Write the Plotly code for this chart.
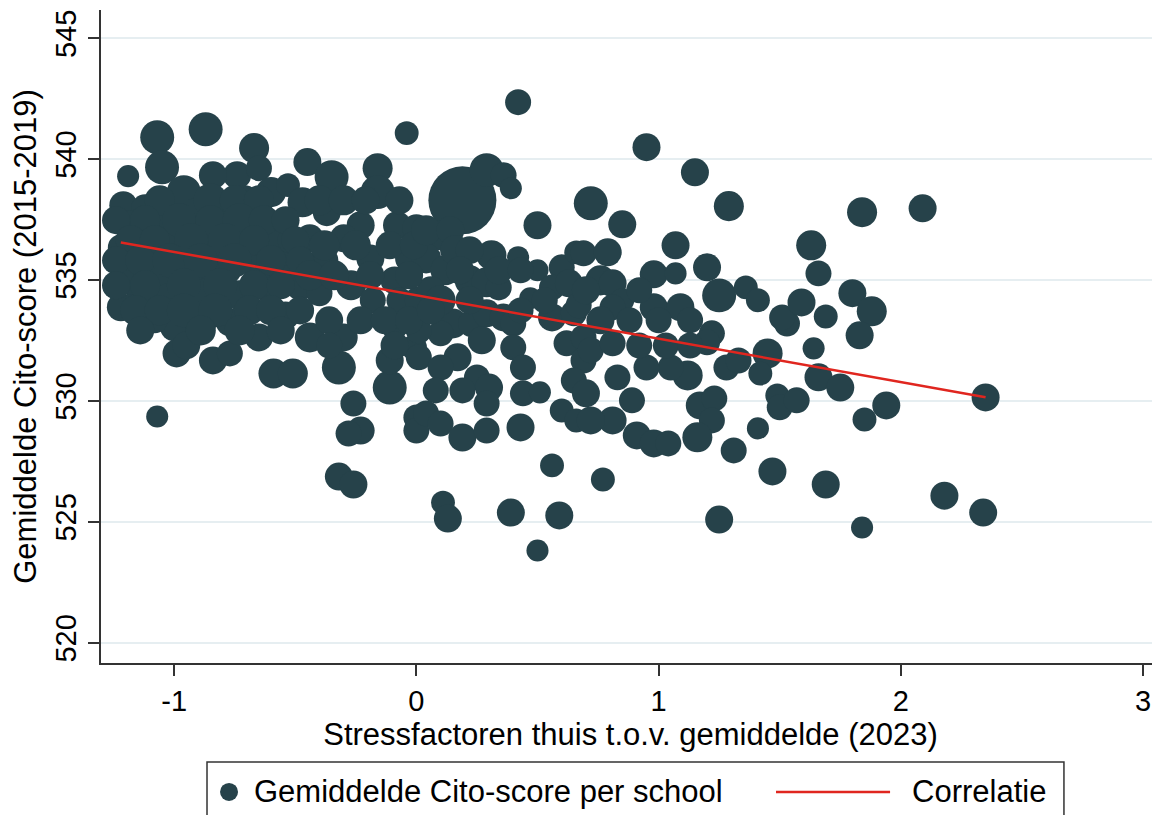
import plotly.graph_objects as go

# Stressfactoren thuis t.o.v. gemiddelde (2023), per school
stress = [
    -1.07, -0.87, -1.19, -1.05, -0.67, -0.74, -0.84, -0.96, -1.21, -1.12,
    -1.22, -1.22, -1.14, -1.07, -1.00, -0.99, -0.84, -0.77, -0.95, -0.65,
    -0.60, -0.45, -0.35, -0.53, -0.16, -0.16, -0.47, -0.37, -0.08, 0.00,
    -0.23, -0.59, -0.44, -0.30, -0.19, -0.03, -0.04,
    -1.18, -1.06, -0.91, -0.79, -0.71, -1.14, -1.00, -0.85, -0.73, -1.08,
    -0.93, -0.79, -0.67, -1.18, -1.02, -0.87, -0.73, -0.63, -0.89, -0.77,
    -1.08, -0.54, -0.48, -0.52, -0.38, -0.27, -0.09, -0.07, 0.01, -0.40,
    -0.18, -0.01, -0.65, -0.44, -0.30, -0.54, -0.23, -0.09, -0.59, -0.51,
    -0.32, -0.11, -0.11, -0.26, -0.23, -0.28, 0.00, 0.00, -0.32, -0.26,
    0.19, 0.29, 0.36, 0.39, 0.42, 0.50, 0.31, 0.42, 0.50, 0.60,
    0.66, 0.10, 0.04, 0.12, 0.22, 0.29, 0.34, 0.47, 0.56, 0.63,
    0.56, 0.65, 0.62, 0.69, 0.15, 0.23, 0.29, 0.36, 0.40, 0.10,
    0.01, 0.27, 0.40, 0.17, 0.01, 0.10, 0.25, 0.44, 0.44, 0.51,
    0.30, 0.19, 0.08, 0.29, 0.04, 0.10, 0.19, 0.29, 0.43, 0.69,
    0.65, 0.60, 0.66, 0.56, 0.11, 0.13, 0.39, 0.59, 0.50, 0.06,
    0.95, 1.15, 1.29, 0.72, 0.85, 1.07, 0.69, 0.79, 0.98, 1.07,
    1.20, 1.25, 1.36, 1.41, 0.76, 0.81, 0.85, 0.67, 0.98, 1.09,
    0.81, 1.53, 1.22, 1.20, 1.28, 1.45, 1.42, 1.33, 1.12, 1.05,
    0.95, 0.83, 0.72, 0.81, 0.89, 0.70, 0.81, 0.72, 0.91, 0.98,
    1.04, 1.17, 1.23, 1.22, 1.16, 1.31, 1.41, 1.49, 1.50, 1.57,
    1.51, 0.77, 1.25, 1.47,
    1.84, 2.09, 1.63, 1.66, 1.59, 1.80, 1.88, 1.69, 1.83, 1.64,
    1.66, 1.75, 1.94, 1.85, 2.35, 1.69, 2.18, 2.34, 1.84,
    # dichte wolk links en midden
    -1.06, -0.85, -0.75, -0.65,
    -1.24, -1.12, -0.98, -0.85, -0.73, -0.63, -0.54,
    -1.18, -1.08, -0.93, -0.79, -0.67, -0.50,
    -1.24, -1.14, -1.02, -0.89, -0.75, -0.60, -0.48,
    -1.24, -1.12, -0.96, -0.81, -0.67, -0.56,
    -1.16, -1.06, -0.96, -0.83, -0.69, -0.60, -0.48,
    -1.14, -0.89, -0.73, -0.56,
    -0.40, -0.30, -0.21, -0.07,
    -0.38, -0.25, -0.11, -0.01,
    -0.44, -0.34, -0.19, -0.03,
    -0.36, -0.13, -0.03,
    -0.36, -0.09,
    0.04, 0.14, 0.16, 0.22, 0.18, 0.34, 0.43, 0.10, 0.22, 0.53, 0.06, 0.43,
    0.70, 0.92, 0.76, 0.88, 1.00, 1.13, 0.92, 1.03, 1.13,
]

# Gemiddelde Cito-score (2015-2019), per school
cito = [
    540.90, 541.23, 539.29, 539.66, 540.45, 539.33, 539.33, 538.63, 538.09, 537.96,
    536.35, 533.87, 534.16, 529.35, 533.04, 531.96, 531.67, 531.96, 532.29, 539.62,
    538.63, 539.87, 539.25, 538.92, 539.62, 538.63, 538.21, 537.80, 537.26, 537.14,
    537.26, 536.56, 536.72, 536.72, 535.89, 535.89, 541.07,
    537.26, 537.38, 537.67, 537.88, 538.29, 536.23, 536.43, 536.64, 536.85, 535.19,
    535.40, 535.48, 535.73, 534.98, 534.16, 534.36, 534.36, 534.78, 533.12, 533.25,
    533.33, 535.60, 534.78, 536.64, 535.81, 534.78, 534.98, 534.16, 534.16, 534.45,
    534.16, 532.21, 532.62, 532.62, 532.62, 533.53, 533.33, 533.12, 531.13, 531.13,
    531.38, 530.55, 531.67, 529.89, 528.77, 528.65, 529.31, 528.77, 526.87, 526.54,
    538.29, 539.54, 539.33, 538.79, 542.35, 537.26, 536.02, 535.94, 535.40, 535.52,
    536.14, 536.85, 535.89, 535.40, 534.98, 534.90, 534.69, 534.24, 534.69, 534.86,
    533.45, 533.62, 532.38, 532.62, 533.20, 533.20, 533.62, 533.45, 533.20, 532.79,
    532.91, 532.50, 532.21, 531.80, 531.80, 531.38, 530.97, 531.38, 530.31, 530.35,
    530.55, 530.43, 530.43, 529.89, 529.48, 529.06, 528.48, 528.77, 528.90, 531.67,
    530.84, 529.60, 529.19, 527.33, 525.79, 525.13, 525.38, 525.26, 523.81, 534.57,
    540.49, 539.45, 538.05, 538.17, 537.30, 536.43, 536.10, 536.14, 535.23, 535.27,
    535.52, 534.36, 534.69, 534.16, 534.98, 534.86, 534.16, 533.95, 533.87, 533.87,
    533.87, 533.20, 532.79, 532.42, 531.38, 531.96, 531.13, 531.67, 531.05, 531.38,
    531.38, 530.97, 532.09, 532.38, 530.02, 530.31, 529.19, 529.19, 528.57, 528.24,
    528.24, 529.81, 530.10, 529.19, 528.49, 527.95, 528.86, 530.22, 529.73, 530.02,
    533.45, 526.75, 525.09, 527.08,
    537.80, 537.96, 536.43, 535.27, 534.07, 534.45, 533.70, 533.49, 532.71, 532.17,
    530.97, 530.55, 529.81, 529.23, 530.14, 526.54, 526.08, 525.38, 524.76,
    # dichte wolk links en midden
    538.29, 538.29, 538.29, 538.29,
    537.47, 537.47, 537.47, 537.47, 537.47, 537.47, 537.47,
    536.64, 536.64, 536.64, 536.64, 536.64, 536.64,
    535.81, 535.81, 535.81, 535.81, 535.81, 535.81, 535.81,
    534.78, 534.78, 534.78, 534.78, 534.78, 534.78,
    533.74, 533.74, 533.74, 533.74, 533.74, 533.74, 533.74,
    532.91, 532.91, 532.91, 532.91,
    538.29, 538.29, 538.29, 538.29,
    536.43, 536.43, 536.43, 536.43,
    535.19, 535.19, 535.19, 535.19,
    533.33, 533.33, 533.33,
    532.29, 532.29,
    537.05, 537.05, 536.23, 536.23, 535.40, 535.40, 535.40, 534.16, 534.16, 534.16, 533.74, 533.74,
    534.57, 534.57, 533.33, 533.33, 533.33, 533.33, 532.29, 532.29, 532.29,
]

# aantal leerlingen per school (bepaalt de grootte van de cirkel)
leerlingen = [
    147, 147, 62, 147, 115, 100, 100, 147, 100, 100,
    86, 100, 115, 62, 100, 100, 100, 86, 100, 86,
    115, 100, 147, 73, 115, 147, 115, 100, 100, 100,
    100, 115, 100, 100, 100, 100, 73,
    115, 147, 147, 100, 115, 147, 147, 147, 115, 147,
    147, 147, 115, 100, 147, 147, 115, 115, 115, 100,
    86, 100, 115, 86, 100, 115, 100, 86, 100, 86,
    86, 86, 100, 115, 100, 100, 100, 100, 115, 115,
    147, 147, 100, 86, 100, 86, 86, 86, 100, 100,
    590, 147, 86, 62, 86, 100, 115, 62, 62, 86,
    73, 115, 115, 115, 115, 115, 86, 62, 86, 100,
    100, 86, 86, 86, 115, 100, 100, 100, 86, 86,
    86, 100, 86, 100, 86, 86, 86, 86, 86, 62,
    100, 86, 86, 86, 86, 86, 100, 86, 100, 86,
    86, 73, 73, 73, 73, 100, 100, 100, 62, 100,
    100, 100, 115, 147, 100, 100, 86, 100, 100, 62,
    100, 147, 73, 73, 115, 100, 73, 86, 100, 100,
    86, 86, 86, 86, 86, 115, 73, 86, 115, 86,
    86, 86, 86, 86, 86, 100, 100, 100, 100, 100,
    86, 100, 86, 86, 115, 86, 62, 73, 86, 86,
    86, 73, 100, 100,
    115, 100, 115, 86, 100, 100, 115, 73, 100, 62,
    100, 100, 100, 73, 100, 100, 100, 100, 62,
    # dichte wolk links en midden
    115, 147, 115, 115,
    100, 115, 147, 115, 147, 115, 100,
    115, 115, 147, 147, 115, 100,
    100, 115, 147, 147, 147, 115, 100,
    100, 115, 147, 147, 115, 100,
    115, 115, 147, 147, 115, 115, 100,
    100, 115, 115, 100,
    115, 115, 100, 100,
    115, 115, 100, 100,
    115, 115, 100, 100,
    100, 100, 100,
    86, 100,
    115, 100, 115, 100, 100, 100, 86, 115, 100, 86, 100, 86,
    100, 86, 100, 86, 86, 86, 86, 86, 86,
]

# regressielijn (begin- en eindpunt)
lijn_x = [-1.22, 2.35]
lijn_y = [536.55, 530.15]

x_ticks = [-1, 0, 1, 2, 3]
y_ticks = [520, 525, 530, 535, 540, 545]

DOT = '#26424a'
RED = '#e0261f'
AXIS = '#333333'
FONT = 'Liberation Sans, Arial, sans-serif'

fig = go.Figure()

fig.add_trace(go.Scatter(
    x=stress,
    y=cito,
    mode='markers',
    name='Gemiddelde Cito-score per school',
    marker=dict(
        size=leerlingen,
        sizemode='area',
        sizeref=0.255,
        color=DOT,
        opacity=1,
        line=dict(width=0),
    ),
))

fig.add_trace(go.Scatter(
    x=lijn_x,
    y=lijn_y,
    mode='lines',
    name='Correlatie',
    line=dict(color=RED, width=2.5),
))

# legenda onder de grafiek, in een kader (zoals in Stata)
leg_y = -0.1975
fig.add_shape(type='rect', xref='paper', yref='paper',
              x0=0.1001, x1=0.9093, y0=-0.1516, y1=-0.32,
              line=dict(color=AXIS, width=1.5))
fig.add_shape(type='circle', xref='paper', yref='paper',
              xsizemode='pixel', ysizemode='pixel',
              xanchor=0.1209, yanchor=leg_y, x0=-9, x1=9, y0=-9, y1=9,
              fillcolor=DOT, line=dict(width=0))
fig.add_shape(type='line', xref='paper', yref='paper',
              x0=0.6374, x1=0.7451, y0=leg_y, y1=leg_y,
              line=dict(color=RED, width=2.5))
fig.add_annotation(text='Gemiddelde Cito-score per school', xref='paper', yref='paper',
                   x=0.1426, y=leg_y, xanchor='left', yanchor='middle',
                   showarrow=False, font=dict(size=31))
fig.add_annotation(text='Correlatie', xref='paper', yref='paper',
                   x=0.7639, y=leg_y, xanchor='left', yanchor='middle',
                   showarrow=False, font=dict(size=31))

# de pagina heeft 8px marge, daarom 8px kleiner en naar links/boven verschoven
fig.update_layout(
    width=1152,
    height=807,
    margin=dict(l=93, r=0, t=2, b=152),
    paper_bgcolor='white',
    plot_bgcolor='white',
    font=dict(family=FONT, size=31, color='black'),
    showlegend=False,
    xaxis=dict(
        range=[-1.302, 3.07],
        tickvals=x_ticks,
        ticktext=[str(v) for v in x_ticks],
        showgrid=False,
        zeroline=False,
        showline=True,
        linecolor=AXIS,
        linewidth=2,
        ticks='outside',
        ticklen=11,
        tickwidth=2,
        tickcolor=AXIS,
        tickfont=dict(family=FONT, size=29, color='black'),
        ticklabelstandoff=0,
        automargin=False,
        title=dict(text='Stressfactoren thuis t.o.v. gemiddelde (2023)', font=dict(size=31), standoff=4),
    ),
    yaxis=dict(
        range=[519.16, 546.16],
        tickvals=y_ticks,
        tickangle=-90,
        showgrid=True,
        gridcolor='#e6eef1',
        gridwidth=2,
        zeroline=False,
        showline=True,
        linecolor=AXIS,
        linewidth=2,
        ticks='outside',
        ticklen=11,
        tickwidth=2,
        tickcolor=AXIS,
        tickfont=dict(family=FONT, size=29, color='black'),
        ticklabelstandoff=0,
        automargin=False,
        title=dict(text='Gemiddelde Cito-score (2015-2019)', font=dict(size=31), standoff=8),
    ),
)

fig.write_html("out.html")
